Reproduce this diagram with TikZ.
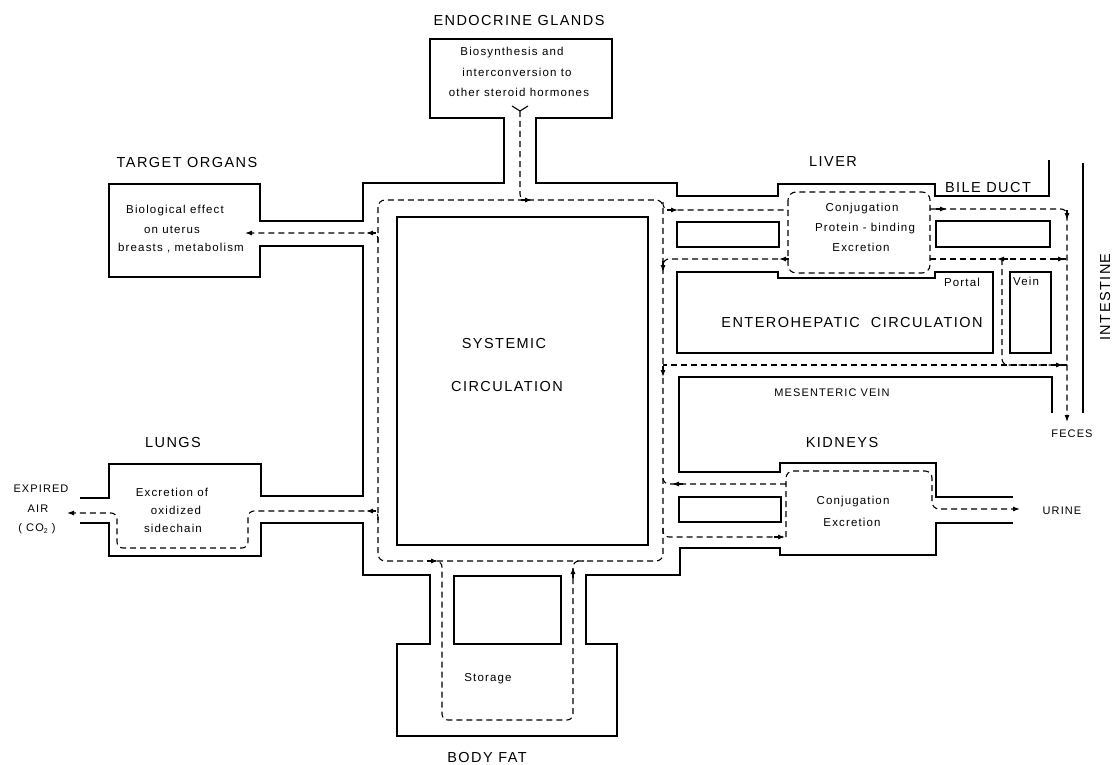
\documentclass[tikz,border=0pt]{standalone}
\usepackage{fontspec}
\setmainfont{Liberation Sans}
\newfontfamily\lblfont[LetterSpace=10]{Liberation Sans}
\newfontfamily\smlfont[LetterSpace=10]{Liberation Sans}
\usetikzlibrary{arrows.meta}
\tikzset{
  wall/.style={line width=1.7pt, line join=miter},
  dsh/.style={line width=1.1pt, dash pattern=on 6pt off 4pt},
  arr/.style={-{Latex[length=7pt,width=5pt]}, line width=1.1pt},
  big/.style={inner sep=0pt, font=\lblfont\fontsize{14.5}{16}\selectfont},
  mid/.style={inner sep=0pt, font=\lblfont\fontsize{11}{13}\selectfont},
  sml/.style={inner sep=0pt, font=\smlfont\fontsize{11.5}{13}\selectfont},
}
\begin{document}
\begin{tikzpicture}[x=1pt,y=-1pt]
\useasboundingbox (0,0) rectangle (1113,765);
\fill[white] (0,0) rectangle (1113,765);

% ---------------- walls ----------------
\draw[wall] (1049,160) -- (1049,196) -- (935,196) -- (935,184) -- (778,184) -- (778,196)
  -- (677,196) -- (677,183) -- (536,183) -- (536,118) -- (612,118) -- (612,39) -- (430,39)
  -- (430,118) -- (504,118) -- (504,183) -- (363,183) -- (363,221) -- (260,221) -- (260,184)
  -- (109,184) -- (109,277) -- (260,277) -- (260,246) -- (363,246) -- (363,496) -- (261,496)
  -- (261,464) -- (109,464) -- (109,498) -- (80,498);
\draw[wall] (80,523) -- (109,523) -- (109,556) -- (261,556) -- (261,523) -- (363,523)
  -- (363,575) -- (430,575) -- (430,644) -- (397,644) -- (397,736) -- (617,736) -- (617,644)
  -- (586,644) -- (586,575) -- (680,575) -- (680,548) -- (780,548) -- (780,555) -- (936,555)
  -- (936,523) -- (1013,523);
\draw[wall] (1013,497) -- (936,497) -- (936,463) -- (780,463) -- (780,472) -- (679,472)
  -- (679,377) -- (1052,377) -- (1052,413);
\draw[wall] (677,272) -- (778,272) -- (778,278) -- (935,278) -- (935,272) -- (993,272)
  -- (993,353) -- (677,353) -- cycle;
\draw[wall] (397,217) rectangle (648,545);
\draw[wall] (454,576) rectangle (561,644);
\draw[wall] (677,222) rectangle (779,247);
\draw[wall] (936,221) rectangle (1050,247);
\draw[wall] (1010,272) rectangle (1051,353);
\draw[wall] (679,497) rectangle (781,522);
\draw[wall] (1083,163) -- (1083,413);

% ---------------- dashed flows ----------------
% systemic loop
\draw[dsh,rounded corners=7] (378,200) rectangle (663,561);
% endocrine
\draw[line width=1.1pt] (512,106) -- (520,111) -- (528,106);
\draw[dsh,rounded corners=6] (520,111) -- (520,200) -- (530,200);
\draw[arr] (521,200) -- (532,200);
% target organs
\draw[dsh,arr,rounded corners=6] (378,242) -- (378,233) -- (245,233);
\draw[arr] (376,233) -- (366,233);
% lungs
\draw[dsh,arr,rounded corners=6] (378,520) -- (378,511) -- (248,511) -- (248,548) -- (117,548) -- (117,513) -- (67,513);
\draw[arr] (376,511) -- (366,511);
% body fat
\draw[dsh,rounded corners=6] (430,561) -- (442,561) -- (442,720) -- (573,720) -- (573,561) -- (584,561);
\draw[arr] (427,561) -- (438,561);
\draw[arr] (573,578) -- (573,567);
% liver
\draw[dsh,rounded corners=8] (788,192) rectangle (930,273);
\draw[dsh,rounded corners=6] (663,202) -- (663,210) -- (788,210);
\draw[arr] (667,210) -- (678,210);
\draw[dsh,rounded corners=6] (788,259) -- (663,259) -- (663,268);
\draw[arr] (789,259) -- (779,259);
\draw[arr] (663,261) -- (663,272);
% bile duct to feces
\draw[dsh,arr,rounded corners=6] (930,209) -- (1067,209) -- (1067,422);
\draw[arr] (936,209) -- (947,209);
\draw[arr] (1067,210) -- (1067,220);
% portal / vein
\draw[dsh] (930,259) -- (1067,259);
\draw[arr] (1054,259) -- (1065,259);
\draw[arr] (1008,259) -- (997,259);
\draw[dsh,rounded corners=6] (1002,259) -- (1002,365) -- (1067,365);
\draw[arr] (1052,365) -- (1063,365);
% mesenteric
\draw[dsh] (1067,365) -- (663,365);
\draw[arr] (663,366) -- (663,377);
% kidneys
\draw[dsh,rounded corners=6] (786,484) -- (663,484) -- (663,476);
\draw[arr] (683,484) -- (672,484);
\draw[dsh,rounded corners=6] (663,528) -- (663,537) -- (786,537);
\draw[arr] (774,537) -- (785,537);
\draw[dsh,arr,rounded corners=7] (786,537) -- (786,471) -- (932,471) -- (932,509) -- (1020,509);

% ---------------- labels ----------------
\node[big] (endo) at (519,21) {ENDOCRINE GLANDS};
\node[sml] (endo1) at (512,53) {Biosynthesis and};
\node[sml] (endo2) at (517,72) {interconversion to};
\node[sml] (endo3) at (519,92) {other steroid hormones};

\node[big] (target) at (187,163) {TARGET ORGANS};
\node[sml] (tg1) at (175,211) {Biological effect};
\node[sml] (tg2) at (172,230) {on uterus};
\node[sml] (tg3) at (181,248) {breasts , metabolism};

\node[big] (sys1) at (504,344) {SYSTEMIC};
\node[big] (sys2) at (507,387) {CIRCULATION};

\node[big] (lungs) at (173,443) {LUNGS};
\node[sml] (lu1) at (172,492) {Excretion of};
\node[sml] (lu2) at (176,510) {oxidized};
\node[sml] (lu3) at (173,528) {sidechain};
\node[mid] (exp1) at (41,489) {EXPIRED};
\node[mid] (exp2) at (38,509) {AIR};
\node[mid] (exp3) at (37,529) {( CO\raisebox{-0.35ex}{\fontsize{7}{8}\selectfont 2} )};

\node[sml] (stor) at (488,679) {Storage};
\node[big] (fat) at (487,757) {BODY FAT};

\node[big] (liver) at (833,162) {LIVER};
\node[big] (bile) at (988,188) {BILE DUCT};
\node[sml] (li1) at (862,209) {Conjugation};
\node[sml] (li2) at (865,229) {Protein - binding};
\node[sml] (li3) at (861,247) {Excretion};
\node[sml] (portal) at (962,282) {Portal};
\node[sml] (vein) at (1026,281) {Vein};
\node[big] (entero) at (852,323) {ENTEROHEPATIC\ \ CIRCULATION};
\node[mid] (mes) at (832,393) {MESENTERIC VEIN};
\node[big] (kid) at (842,443) {KIDNEYS};
\node[mid] (feces) at (1072,434) {FECES};
\node[big, rotate=90] (intest) at (1105,297) {INTESTINE};
\node[sml] (ki1) at (853,502) {Conjugation};
\node[sml] (ki2) at (852,522) {Excretion};
\node[mid] (urine) at (1062,511) {URINE};
\end{tikzpicture}
\end{document}
